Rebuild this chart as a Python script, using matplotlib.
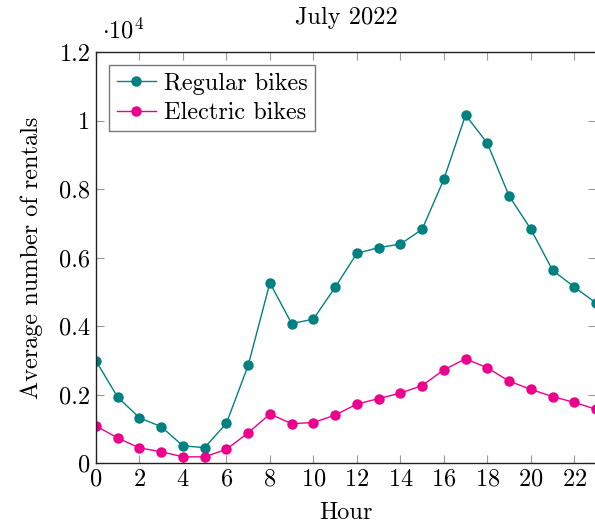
import matplotlib
matplotlib.use("Agg")
import matplotlib.pyplot as plt
from matplotlib.ticker import FuncFormatter, MultipleLocator

plt.rcParams["font.family"] = "serif"
plt.rcParams["font.serif"] = ["cmr10", "DejaVu Serif"]
plt.rcParams["mathtext.fontset"] = "cm"
plt.rcParams["axes.formatter.use_mathtext"] = True

# average rentals per hour, July 2022
hours = list(range(24))
regular = [2980, 1920, 1320, 1060, 500, 450, 1160, 2850, 5260, 4070, 4200, 5130,
           6120, 6290, 6390, 6820, 8280, 10160, 9340, 7800, 6830, 5630, 5140, 4670]
electric = [1080, 730, 440, 330, 180, 180, 400, 880, 1430, 1150, 1180, 1400,
            1720, 1880, 2040, 2260, 2720, 3040, 2780, 2390, 2150, 1940, 1770, 1570]

TEAL = "#008080"
PINK = "#ec008c"
FS = 17.5


def fmt_y(v, pos):
    s = f"{v / 1e4:.1f}"
    return s[:-2] if s.endswith(".0") else s


fig = plt.figure(figsize=(5.95, 5.29), dpi=100)
ax = fig.add_axes([96 / 595, 66 / 529, 500 / 595, 411 / 529])

ax.plot(hours, regular, color=TEAL, marker="o", markersize=6.5, linewidth=1.0,
        label="Regular bikes")
ax.plot(hours, electric, color=PINK, marker="o", markersize=6.5, linewidth=1.0,
        label="Electric bikes")

ax.set_xlim(0, 23)
ax.set_ylim(0, 12000)
ax.xaxis.set_major_locator(MultipleLocator(2))
ax.yaxis.set_major_locator(MultipleLocator(2000))
ax.yaxis.set_major_formatter(FuncFormatter(fmt_y))

ax.tick_params(direction="in", length=6, width=0.8, color="#999999",
               top=True, right=True, labelsize=FS, pad=4)
for sp in ax.spines.values():
    sp.set_linewidth(1.0)
    sp.set_color("#222222")

ax.set_xlabel("Hour", fontsize=FS, labelpad=8)
ax.set_ylabel("Average number of rentals", fontsize=FS, labelpad=12)
ax.set_title("July 2022", fontsize=FS, pad=20)
ax.text(0.012, 1.02, r"$\cdot 10^4$", transform=ax.transAxes, fontsize=FS,
        ha="left", va="bottom")

leg = ax.legend(loc="upper left", fontsize=FS, frameon=True, fancybox=False,
                borderpad=0.3, handlelength=1.6, handletextpad=0.35,
                labelspacing=0.3, borderaxespad=0.55)
leg.get_frame().set_edgecolor("#555555")
leg.get_frame().set_linewidth(1.0)

fig.savefig("out.png", dpi=100)
